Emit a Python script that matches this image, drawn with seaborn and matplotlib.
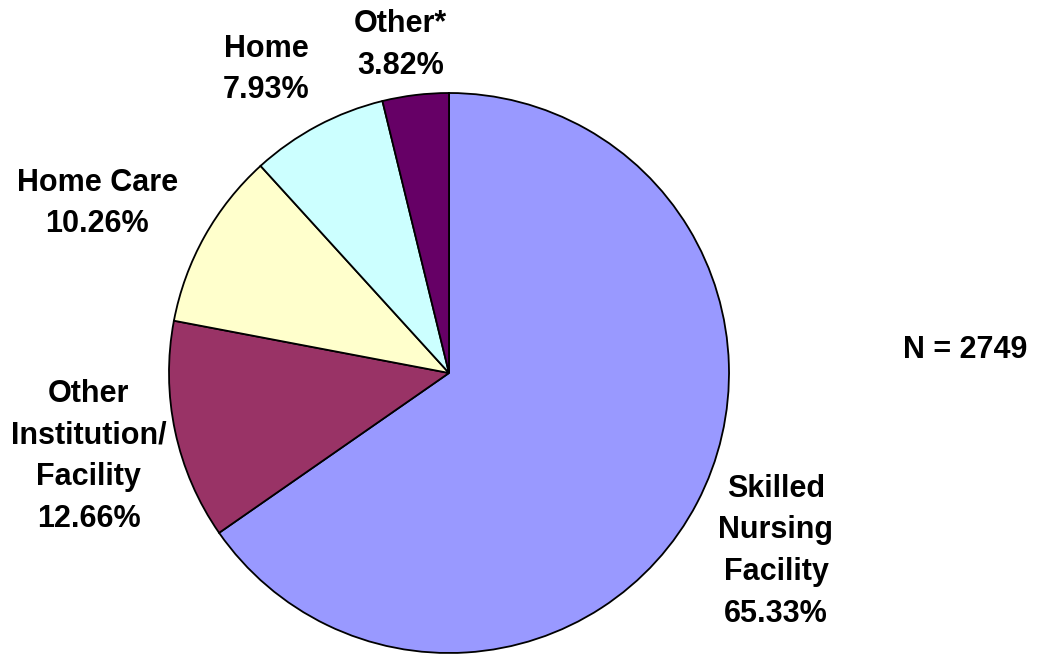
import numpy as np
import matplotlib
matplotlib.use("Agg")
import matplotlib.pyplot as plt
import seaborn as sns

categories = ["Skilled\nNursing\nFacility", "Other\nInstitution/\nFacility", "Home Care", "Home", "Other*"]
values = [65.33, 12.66, 10.26, 7.93, 3.82]
pct_labels = ["65.33%", "12.66%", "10.26%", "7.93%", "3.82%"]
colors = ["#9999FF", "#993366", "#FFFFCC", "#CCFFFF", "#660066"]
n_text = "N = 2749"

sns.set_theme(style="white")
plt.rcParams['font.family'] = ['Liberation Sans', 'DejaVu Sans']
plt.rcParams['text.color'] = 'black'

W, H = 1048, 655
fig = plt.figure(figsize=(W / 100, H / 100), dpi=100)
cx, cy, r = 449, 373, 280
ax = fig.add_axes([(cx - r) / W, (H - cy - r) / H, 2 * r / W, 2 * r / H])

wedges, _ = ax.pie(values, colors=colors, startangle=90, counterclock=False,
                   wedgeprops=dict(edgecolor="black", linewidth=1.3))
ax.set_xlim(-1, 1)
ax.set_ylim(-1, 1)
ax.set_aspect("equal")
ax.axis("off")

label_dist = [1.33, 1.32, 1.395, 1.265, 1.185]
angle_shift = [-1.0, 1.0, 3.5, 3.0, 1.5]
for w, cat, pct, d, sh in zip(wedges, categories, pct_labels, label_dist, angle_shift):
    mid = np.deg2rad((w.theta1 + w.theta2) / 2 + sh)
    ax.text(d * np.cos(mid), d * np.sin(mid), f"{cat}\n{pct}", ha="center", va="center",
            fontsize=22, fontweight="bold", linespacing=1.51, clip_on=False, color="black")

fig.text(965 / W, 1 - 350 / H, n_text, ha="center", va="center", fontsize=22,
         fontweight="bold", color="black")

fig.savefig("out.png", dpi=100, facecolor="white")
